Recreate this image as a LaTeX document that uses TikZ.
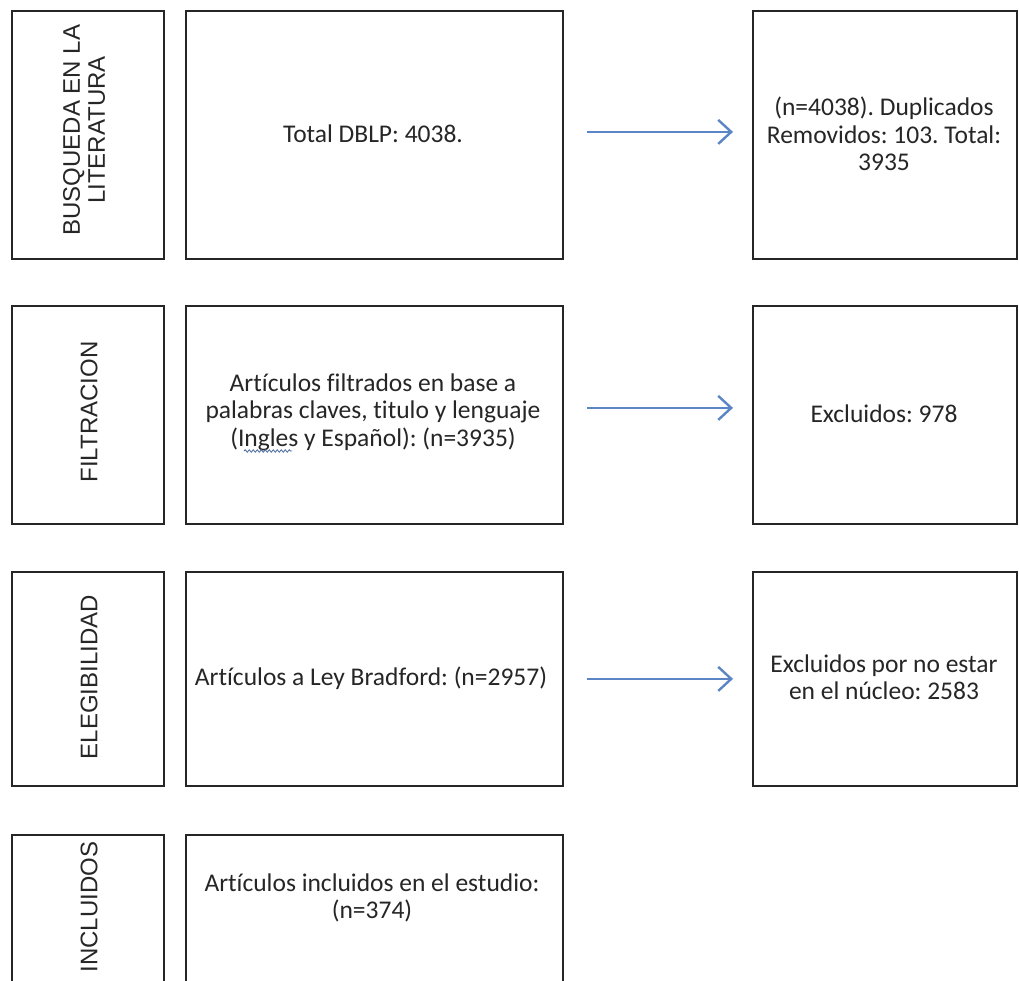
\documentclass[tikz,border=0pt]{standalone}
\usepackage{fontspec}
\setmainfont{Carlito}[Ligatures={NoCommon}]
\newfontfamily\labelfont{Liberation Sans}
\usetikzlibrary{arrows.meta,decorations.pathmorphing}
\definecolor{flowblue}{HTML}{5B85C4}
\definecolor{boxline}{HTML}{262626}
\frenchspacing
\begin{document}
\begin{tikzpicture}[x=1pt,y=-1pt,
  frame/.style={draw=boxline,line width=1.8pt,anchor=north west,inner sep=0pt},
  stage/.style={frame,minimum width=152pt},
  body/.style={frame,minimum width=377pt},
  result/.style={frame,minimum width=264pt},
  sidetext/.style={font=\labelfont\fontsize{24}{25}\selectfont,rotate=90,align=center,text=black!85},
  maintext/.style={font=\fontsize{25.5}{27.5}\selectfont,align=center,text=black!85},
  flow/.style={draw=flowblue,line width=2.4pt,-{Straight Barb[length=13pt,width=24pt,line width=2.4pt]}}]
\useasboundingbox (0,0) rectangle (1019,980);
\clip (0,0) rectangle (1019,980);
\fill[white] (0,0) rectangle (1019,980);

% stage column
\node[stage,minimum height=248pt] (lab1) at (11,10) {};
\node[stage,minimum height=218pt] (lab2) at (11,305) {};
\node[stage,minimum height=214pt] (lab3) at (11,571) {};
\node[stage,minimum height=214pt] (lab4) at (11,834) {};

% main column
\node[body,minimum height=248pt] (mid1) at (185,10) {};
\node[body,minimum height=218pt] (mid2) at (185,305) {};
\node[body,minimum height=214pt] (mid3) at (185,571) {};
\node[body,minimum height=214pt] (mid4) at (185,834) {};

% results column
\node[result,minimum height=248pt] (out1) at (752,10) {};
\node[result,minimum height=218pt] (out2) at (752,305) {};
\node[result,minimum height=214pt] (out3) at (752,571) {};

% stage labels
\node[sidetext] (t1) at (84,130) {BUSQUEDA EN LA\\LITERATURA};
\node[sidetext] (t2) at (89,412) {FILTRACION};
\node[sidetext] (t3) at (89,677) {ELEGIBILIDAD};
\node[sidetext] (t4) at (89,907) {INCLUIDOS};

% box texts
\node[maintext] (m1) at (373,134) {Total DBLP: 4038.};
\node[maintext] (m2) at (373,412) {Artículos filtrados en base a\\palabras claves, titulo y lenguaje\\(Ingles y Español): (n=3935)};
\node[maintext] (m3) at (371,678) {Artículos a Ley Bradford: (n=2957)};
\node[maintext] (m4) at (372,898) {Artículos incluidos en el estudio:\\(n=374)};
\node[maintext] (r1) at (884,134) {(n=4038). Duplicados\\Removidos: 103. Total:\\3935};
\node[maintext] (r2) at (884,414) {Excluidos: 978};
\node[maintext] (r3) at (884,677) {Excluidos por no estar\\en el núcleo: 2583};

% spell-check underline under "Ingles"
\coordinate (w0) at (244,451);
\coordinate (w1) at (292,451);
\draw[flowblue!80!black,line width=0.8pt,decorate,decoration={snake,amplitude=1.2pt,segment length=4pt}] (w0) -- (w1);

% connectors
\draw[flow,shorten <=23pt,shorten >=19pt] ([yshift=3pt]mid1.east) -- ([yshift=3pt]out1.west);
\draw[flow,shorten <=23pt,shorten >=19pt] ([yshift=7pt]mid2.east) -- ([yshift=7pt]out2.west);
\draw[flow,shorten <=23pt,shorten >=19pt] (mid3.east) -- (out3.west);
\end{tikzpicture}
\end{document}
